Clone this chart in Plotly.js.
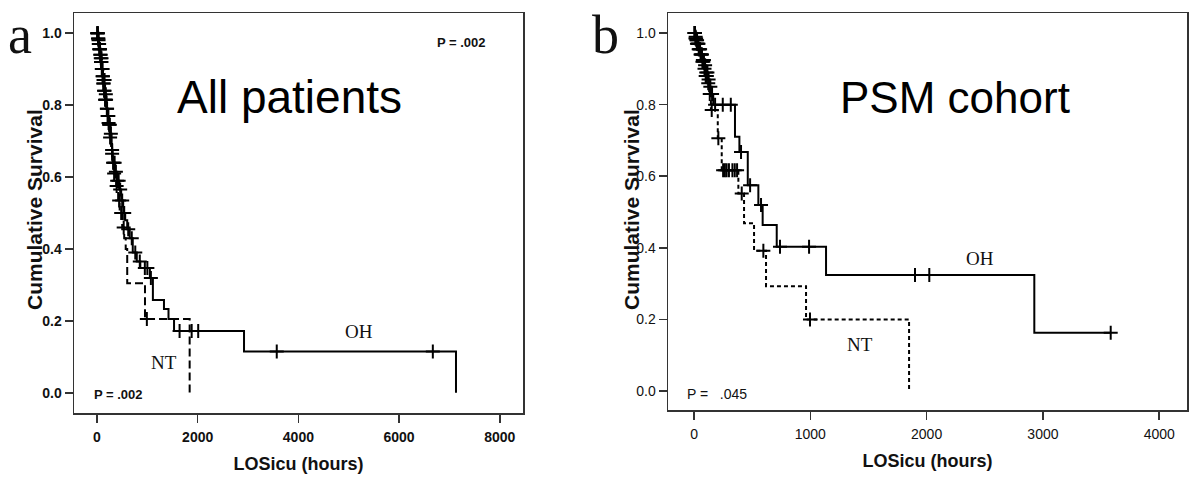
<!DOCTYPE html>
<html>
<head>
<meta charset="utf-8">
<script src="https://cdn.plot.ly/plotly-3.0.1.min.js"></script>
<style>html,body{margin:0;padding:0;background:#fff;}#chart{width:1200px;height:493px;}</style>
</head>
<body>
<div id="chart"></div>
<script>
// ---------- Panel a : All patients ----------
const allOH_time = [0, 15, 30, 45, 60, 75, 90, 105, 120, 140, 160, 185, 210, 240, 270, 290, 300, 310, 360, 400, 440, 480, 520, 560, 600, 650, 710, 790, 860, 1050, 1110, 1330, 1420, 1530, 2920, 7130];
const allOH_surv = [1.0, 0.985, 0.97, 0.955, 0.94, 0.92, 0.9, 0.88, 0.86, 0.84, 0.815, 0.79, 0.77, 0.745, 0.72, 0.69, 0.665, 0.64, 0.615, 0.59, 0.565, 0.535, 0.5, 0.48, 0.455, 0.43, 0.39, 0.365, 0.347, 0.319, 0.258, 0.233, 0.205, 0.172, 0.115, 0.0];
const allOH_cens = [5, 12, 20, 28, 35, 42, 50, 58, 65, 72, 80, 88, 95, 102, 110, 118, 125, 132, 140, 150, 160, 170, 180, 195, 210, 225, 240, 255, 275, 300, 320, 330, 350, 375, 400, 430, 460, 500, 540, 620, 690, 760, 850, 950, 1000, 1070, 1640, 1880, 2010, 3570, 6670];

const allNT_time = [0, 20, 45, 70, 100, 130, 160, 190, 220, 250, 280, 310, 340, 380, 420, 450, 500, 540, 570, 600, 953, 1840];
const allNT_surv = [1.0, 0.98, 0.955, 0.93, 0.9, 0.87, 0.83, 0.79, 0.75, 0.71, 0.675, 0.64, 0.61, 0.575, 0.535, 0.5, 0.46, 0.43, 0.4, 0.305, 0.205, 0.0];
const allNT_cens = [8, 18, 30, 45, 60, 75, 90, 110, 130, 150, 175, 200, 230, 260, 300, 340, 390, 440, 480, 530, 990];

// ---------- Panel b : PSM cohort ----------
const psmOH_time = [0, 10, 20, 30, 45, 60, 75, 90, 105, 120, 135, 150, 165, 352, 390, 462, 553, 590, 711, 1135, 2926, 3583];
const psmOH_surv = [1.0, 0.99, 0.98, 0.97, 0.955, 0.94, 0.925, 0.91, 0.89, 0.87, 0.85, 0.83, 0.8, 0.71, 0.668, 0.575, 0.52, 0.464, 0.403, 0.324, 0.163, 0.163];
const psmOH_cens = [3, 8, 14, 20, 26, 32, 38, 45, 52, 60, 68, 76, 85, 95, 105, 115, 125, 140, 155, 181, 247, 316, 404, 482, 576, 739, 989, 1900, 2023, 3583];

const psmNT_time = [0, 12, 25, 40, 55, 70, 85, 100, 115, 130, 145, 204, 238, 381, 430, 516, 619, 963, 1849];
const psmNT_surv = [1.0, 0.985, 0.97, 0.955, 0.94, 0.92, 0.9, 0.88, 0.86, 0.83, 0.785, 0.706, 0.617, 0.552, 0.469, 0.392, 0.293, 0.2, 0.0];
const psmNT_cens = [5, 12, 18, 25, 32, 40, 48, 56, 64, 72, 80, 90, 100, 110, 122, 135, 152, 209, 250, 265, 280, 300, 330, 350, 370, 410, 596, 997];

// survival value of a KM step function at time t
function survAt(times, surv, t) {
  let s = surv[0];
  for (let i = 0; i < times.length; i++) { if (times[i] <= t) s = surv[i]; }
  return s;
}

const W = 1200, H = 493;
const px = x => x / W;
const py = y => 1 - y / H;

function stepTrace(t, s, dash, xa, ya) {
  return {x: t, y: s, type: 'scatter', mode: 'lines', line: {shape: 'hv', color: '#000', width: 2, dash: dash}, xaxis: xa, yaxis: ya, hoverinfo: 'skip', showlegend: false};
}
function censTrace(t, times, surv, xa, ya) {
  return {x: t, y: t.map(v => survAt(times, surv, v)), type: 'scatter', mode: 'markers',
    marker: {symbol: 'cross-thin', size: 10, color: '#000', line: {width: 2, color: '#000'}},
    xaxis: xa, yaxis: ya, hoverinfo: 'skip', showlegend: false};
}

const data = [
  stepTrace(allOH_time, allOH_surv, 'solid', 'x', 'y'),
  stepTrace(allNT_time, allNT_surv, '8px,4px', 'x', 'y'),
  censTrace(allOH_cens, allOH_time, allOH_surv, 'x', 'y'),
  censTrace(allNT_cens, allNT_time, allNT_surv, 'x', 'y'),
  stepTrace(psmOH_time, psmOH_surv, 'solid', 'x2', 'y2'),
  stepTrace(psmNT_time, psmNT_surv, '4px,3px', 'x2', 'y2'),
  censTrace(psmOH_cens, psmOH_time, psmOH_surv, 'x2', 'y2'),
  censTrace(psmNT_cens, psmNT_time, psmNT_surv, 'x2', 'y2')
];

const fa = {family: 'Liberation Sans, Arial', size: 14, color: '#111', weight: 'bold'};
const fb = {family: 'Liberation Sans, Arial', size: 14, color: '#111'};
const titleFont = {family: 'Liberation Sans, Arial', size: 18, color: '#111', weight: 'bold'};
const yTitleFont = {family: 'Liberation Sans, Arial', size: 21, color: '#111', weight: 'bold'};

function axisCommon() {
  return {showgrid: false, zeroline: false, showline: true, mirror: true, linecolor: '#333', linewidth: 1.5,
          ticks: 'outside', ticklen: 8, tickwidth: 1.5, tickcolor: '#333', fixedrange: true};
}

const layout = {
  width: W, height: H,
  margin: {l: 0, r: 0, t: 0, b: 0},
  paper_bgcolor: '#fff', plot_bgcolor: '#fff',
  showlegend: false,
  xaxis: Object.assign(axisCommon(), {domain: [px(74), px(523)], range: [-457, 8461], tickvals: [0, 2000, 4000, 6000, 8000], tickfont: fa, ticklabelstandoff: 3,
    title: {text: 'LOSicu (hours)', font: titleFont, standoff: 13}, anchor: 'y'}),
  yaxis: Object.assign(axisCommon(), {domain: [py(413), py(13)], range: [-0.056, 1.056], tickvals: [0, 0.2, 0.4, 0.6, 0.8, 1.0], tickformat: '.1f', tickfont: fa, anchor: 'x'}),
  xaxis2: Object.assign(axisCommon(), {domain: [px(668), px(1187)], range: [-224, 4239], tickvals: [0, 1000, 2000, 3000, 4000], tickfont: fb, ticklabelstandoff: 3,
    title: {text: 'LOSicu (hours)', font: titleFont, standoff: 13}, anchor: 'y2'}),
  yaxis2: Object.assign(axisCommon(), {domain: [py(410), py(13)], range: [-0.053, 1.056], tickvals: [0, 0.2, 0.4, 0.6, 0.8, 1.0], tickformat: '.1f', tickfont: fb, anchor: 'x2'}),
  annotations: [
    {text: 'Cumulative Survival', textangle: -90, x: px(34), y: py(210), xref: 'paper', yref: 'paper', showarrow: false, xanchor: 'center', yanchor: 'middle', font: yTitleFont},
    {text: 'Cumulative Survival', textangle: -90, x: px(631), y: py(210), xref: 'paper', yref: 'paper', showarrow: false, xanchor: 'center', yanchor: 'middle', font: yTitleFont},
    {text: 'a', x: px(20), y: py(35), xref: 'paper', yref: 'paper', showarrow: false, xanchor: 'center', yanchor: 'middle', font: {family: 'Liberation Serif, Times New Roman, serif', size: 54, color: '#111'}},
    {text: 'b', x: px(605), y: py(35), xref: 'paper', yref: 'paper', showarrow: false, xanchor: 'center', yanchor: 'middle', font: {family: 'Liberation Serif, Times New Roman, serif', size: 54, color: '#111'}},
    {text: 'All patients', x: px(175), y: py(97), xref: 'paper', yref: 'paper', showarrow: false, xanchor: 'left', yanchor: 'middle', font: {family: 'Liberation Sans, Arial', size: 46, color: '#000'}},
    {text: 'PSM cohort', x: px(838), y: py(97), xref: 'paper', yref: 'paper', showarrow: false, xanchor: 'left', yanchor: 'middle', font: {family: 'Liberation Sans, Arial', size: 44, color: '#000'}},
    {text: 'P = .002', x: px(435), y: py(43), xref: 'paper', yref: 'paper', showarrow: false, xanchor: 'left', yanchor: 'middle', font: {family: 'Liberation Sans, Arial', size: 13, color: '#111', weight: 'bold'}},
    {text: 'P = .002', x: px(92), y: py(394), xref: 'paper', yref: 'paper', showarrow: false, xanchor: 'left', yanchor: 'middle', font: {family: 'Liberation Sans, Arial', size: 13, color: '#111', weight: 'bold'}},
    {text: 'P =   .045', x: px(685), y: py(394), xref: 'paper', yref: 'paper', showarrow: false, xanchor: 'left', yanchor: 'middle', font: {family: 'Liberation Sans, Arial', size: 14, color: '#111'}},
    {text: 'OH', x: px(359), y: py(331), xref: 'paper', yref: 'paper', showarrow: false, xanchor: 'center', yanchor: 'middle', font: {family: 'Liberation Serif, Times New Roman, serif', size: 19, color: '#111'}},
    {text: 'NT', x: px(164), y: py(362), xref: 'paper', yref: 'paper', showarrow: false, xanchor: 'center', yanchor: 'middle', font: {family: 'Liberation Serif, Times New Roman, serif', size: 19, color: '#111'}},
    {text: 'OH', x: px(980), y: py(258), xref: 'paper', yref: 'paper', showarrow: false, xanchor: 'center', yanchor: 'middle', font: {family: 'Liberation Serif, Times New Roman, serif', size: 19, color: '#111'}},
    {text: 'NT', x: px(860), y: py(344), xref: 'paper', yref: 'paper', showarrow: false, xanchor: 'center', yanchor: 'middle', font: {family: 'Liberation Serif, Times New Roman, serif', size: 19, color: '#111'}}
  ]
};

Plotly.newPlot('chart', data, layout, {displayModeBar: false, staticPlot: true});
</script>
</body>
</html>
